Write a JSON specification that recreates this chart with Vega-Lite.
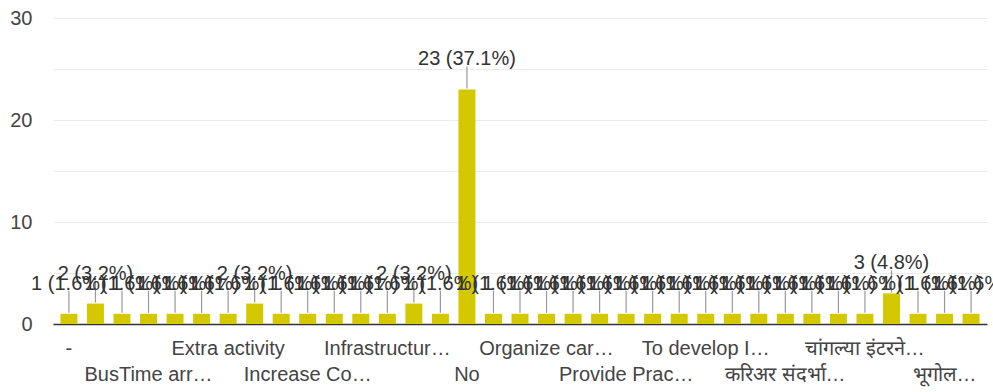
{
  "$schema": "https://vega.github.io/schema/vega-lite/v6.json",
  "width": 934,
  "height": 306,
  "autosize": {"type": "none"},
  "padding": {"left": 53, "top": 18, "right": 6, "bottom": 68},
  "background": "white",
  "config": {"view": {"stroke": null}, "font": "Liberation Sans"},
  "data": {
    "values": [
      {"answer": "-", "count": 1, "label": "1 (1.6%)"},
      {"answer": "All good", "count": 2, "label": "2 (3.2%)"},
      {"answer": "Bus facility", "count": 1, "label": "1 (1.6%)"},
      {"answer": "BusTime arr…", "count": 1, "label": "1 (1.6%)"},
      {"answer": "Computer lab", "count": 1, "label": "1 (1.6%)"},
      {"answer": "Discipline", "count": 1, "label": "1 (1.6%)"},
      {"answer": "Extra activity", "count": 1, "label": "1 (1.6%)"},
      {"answer": "Good", "count": 2, "label": "2 (3.2%)"},
      {"answer": "Improve teaching", "count": 1, "label": "1 (1.6%)"},
      {"answer": "Increase Co…", "count": 1, "label": "1 (1.6%)"},
      {"answer": "Increase library books", "count": 1, "label": "1 (1.6%)"},
      {"answer": "Increase sports", "count": 1, "label": "1 (1.6%)"},
      {"answer": "Infrastructur…", "count": 1, "label": "1 (1.6%)"},
      {"answer": "Library facility", "count": 2, "label": "2 (3.2%)"},
      {"answer": "Nice", "count": 1, "label": "1 (1.6%)"},
      {"answer": "No", "count": 23, "label": "23 (37.1%)"},
      {"answer": "No suggestion", "count": 1, "label": "1 (1.6%)"},
      {"answer": "Nothing", "count": 1, "label": "1 (1.6%)"},
      {"answer": "Organize car…", "count": 1, "label": "1 (1.6%)"},
      {"answer": "Organize more events", "count": 1, "label": "1 (1.6%)"},
      {"answer": "Practical sessions", "count": 1, "label": "1 (1.6%)"},
      {"answer": "Provide Prac…", "count": 1, "label": "1 (1.6%)"},
      {"answer": "Sports facilities", "count": 1, "label": "1 (1.6%)"},
      {"answer": "Teaching quality", "count": 1, "label": "1 (1.6%)"},
      {"answer": "To develop I…", "count": 1, "label": "1 (1.6%)"},
      {"answer": "Wi-Fi facility", "count": 1, "label": "1 (1.6%)"},
      {"answer": "अभ्यासक्रम सुधारणा", "count": 1, "label": "1 (1.6%)"},
      {"answer": "करिअर संदर्भा…", "count": 1, "label": "1 (1.6%)"},
      {"answer": "खेळ सुविधा", "count": 1, "label": "1 (1.6%)"},
      {"answer": "ग्रंथालय", "count": 1, "label": "1 (1.6%)"},
      {"answer": "चांगल्या इंटरने…", "count": 1, "label": "1 (1.6%)"},
      {"answer": "नाही", "count": 3, "label": "3 (4.8%)"},
      {"answer": "प्रात्यक्षिक", "count": 1, "label": "1 (1.6%)"},
      {"answer": "भूगोल…", "count": 1, "label": "1 (1.6%)"},
      {"answer": "शिक्षक", "count": 1, "label": "1 (1.6%)"}
    ]
  },
  "encoding": {
    "x": {
      "field": "answer",
      "type": "nominal",
      "sort": null,
      "scale": {"paddingInner": 0.36, "paddingOuter": 0.28},
      "axis": {
        "title": null,
        "values": ["-", "BusTime arr…", "Extra activity", "Increase Co…", "Infrastructur…", "No", "Organize car…", "Provide Prac…", "To develop I…", "करिअर संदर्भा…", "चांगल्या इंटरने…", "भूगोल…"],
        "labelExpr": "indexof(['BusTime arr…', 'Increase Co…', 'No', 'Provide Prac…', 'करिअर संदर्भा…', 'भूगोल…'], datum.value) >= 0 ? ['', datum.label] : datum.label",
        "labelAngle": 0,
        "labelFontSize": 20,
        "labelColor": "#444444",
        "labelPadding": 14,
        "labelLineHeight": 26,
        "labelOverlap": false,
        "labelBound": false,
        "labelLimit": 0,
        "ticks": false,
        "grid": false,
        "domainColor": "#333333",
        "domainWidth": 1.5
      }
    }
  },
  "layer": [
    {
      "mark": {"type": "bar", "color": "#d4c800"},
      "encoding": {
        "y": {
          "field": "count",
          "type": "quantitative",
          "scale": {"domain": [0, 30], "nice": false},
          "axis": {
            "title": null,
            "values": [0, 5, 10, 15, 20, 25, 30],
            "labelExpr": "datum.value % 10 === 0 ? datum.label : ''",
            "domain": false,
            "ticks": false,
            "labelFontSize": 20,
            "labelColor": "#444444",
            "labelPadding": 21,
            "gridColor": "#ebebeb"
          }
        }
      }
    },
    {
      "mark": {"type": "rule", "color": "#999999", "strokeWidth": 1.2, "yOffset": -1, "y2Offset": -23},
      "encoding": {
        "y": {"field": "count", "type": "quantitative"},
        "y2": {"field": "count"}
      }
    },
    {
      "mark": {"type": "text", "baseline": "alphabetic", "dy": -24, "fontSize": 20, "color": "#333333"},
      "encoding": {
        "y": {"field": "count", "type": "quantitative"},
        "text": {"field": "label"}
      }
    }
  ]
}
